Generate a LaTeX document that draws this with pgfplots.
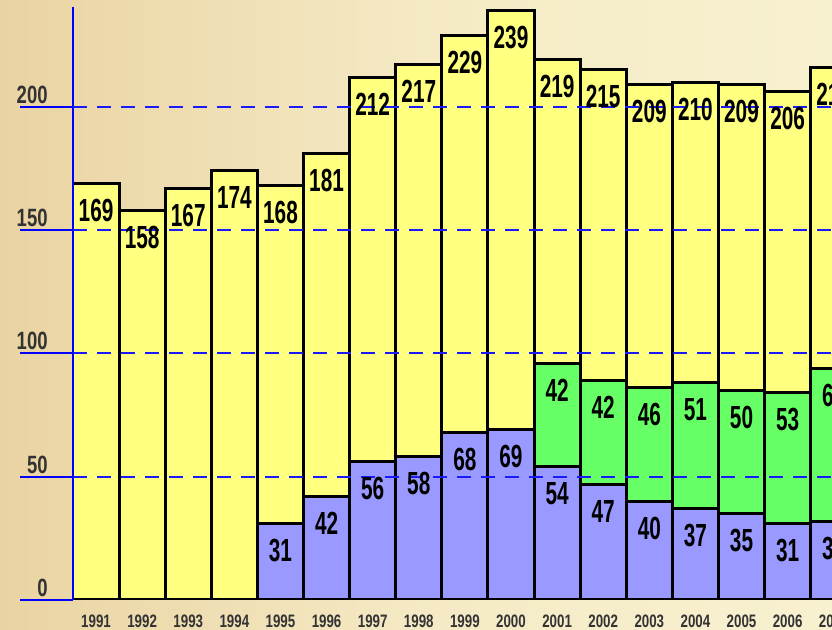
\documentclass[border=0pt]{standalone}
\usepackage{pgfplots}
\pgfplotsset{compat=1.18}
\usepackage{pgfplotstable}
\usepackage{fontspec}
\setmainfont{Liberation Sans}
\newfontfamily\nb[FakeStretch=0.65]{Liberation Sans}
\newfontfamily\tb[FakeStretch=0.74]{Liberation Sans}
\definecolor{yel}{HTML}{FFFF80}
\definecolor{blu}{HTML}{9999FF}
\definecolor{grn}{HTML}{66FF66}
\definecolor{txt}{HTML}{333333}
\definecolor{tan}{HTML}{EAD3A2}
\definecolor{pale}{HTML}{F8F1D0}
\definecolor{gridblue}{HTML}{1A1AFF}
\pgfplotstableread{
x total blue green
0 169 nan nan
1 158 nan nan
2 167 nan nan
3 174 nan nan
4 168 31 nan
5 181 42 nan
6 212 56 nan
7 217 58 nan
8 229 68 nan
9 239 69 nan
10 219 54 42
11 215 47 42
12 209 40 46
13 210 37 51
14 209 35 50
15 206 31 53
16 216 32 62
}\data
\begin{document}
\begin{tikzpicture}
\path[use as bounding box] (0,0) rectangle (416pt,315pt);
\clip (0,0) rectangle (416pt,315pt);
\shade[left color=tan, right color=pale, middle color=pale!75!tan] (0,0) rectangle (416pt,315pt);
\begin{axis}[
  at={(36.5pt,15pt)}, anchor=south west,
  scale only axis, width=391.9pt, height=296.6pt,
  xmin=-0.5, xmax=16.5, ymin=0, ymax=240.5,
  /pgf/number format/assume math mode=true,
  axis lines*=left, axis line style={-},
  x axis line style={draw=none},
  y axis line style={blue, line width=1pt},
  ytick={0,50,100,150,200},
  extra y ticks={50,100,150,200},
  extra y tick labels={},
  extra y tick style={grid=major, major tick length=0pt},
  xtick={0,...,16},
  xticklabels={1991,1992,1993,1994,1995,1996,1997,1998,1999,2000,2001,2002,2003,2004,2005,2006,2007},
  tick align=outside,
  major tick length=26.5pt,
  major y tick style={blue, line width=1pt},
  major x tick style={draw=none},
  grid style={gridblue, dash pattern=on 7pt off 5pt, line width=0.9pt},
  yticklabel style={font=\tb\bfseries\fontsize{12.5}{13}\selectfont, text=txt, anchor=south east, inner sep=0pt, xshift=14pt, yshift=1.5pt},
  xticklabel style={font=\tb\bfseries\fontsize{9}{10}\selectfont, text=txt, anchor=center, inner sep=0pt, yshift=16pt},
  axis on top,
  unbounded coords=discard,
  every node near coord/.append style={font=\nb\bfseries\fontsize{16}{18}\selectfont, text=black, anchor=center, yshift=-13.5pt},
]
\addplot[ybar, bar width=1, bar shift=0pt, fill=yel, draw=black, line width=1.5pt, nodes near coords] table[x=x, y=total] {\data};
\addplot[ybar, bar width=1, bar shift=0pt, fill=grn, draw=black, line width=1.5pt, nodes near coords, point meta=explicit] table[x=x, y expr=\thisrow{blue}+\thisrow{green}, meta=green] {\data};
\addplot[ybar, bar width=1, bar shift=0pt, fill=blu, draw=black, line width=1.5pt, nodes near coords] table[x=x, y=blue] {\data};
\end{axis}
\end{tikzpicture}
\end{document}
